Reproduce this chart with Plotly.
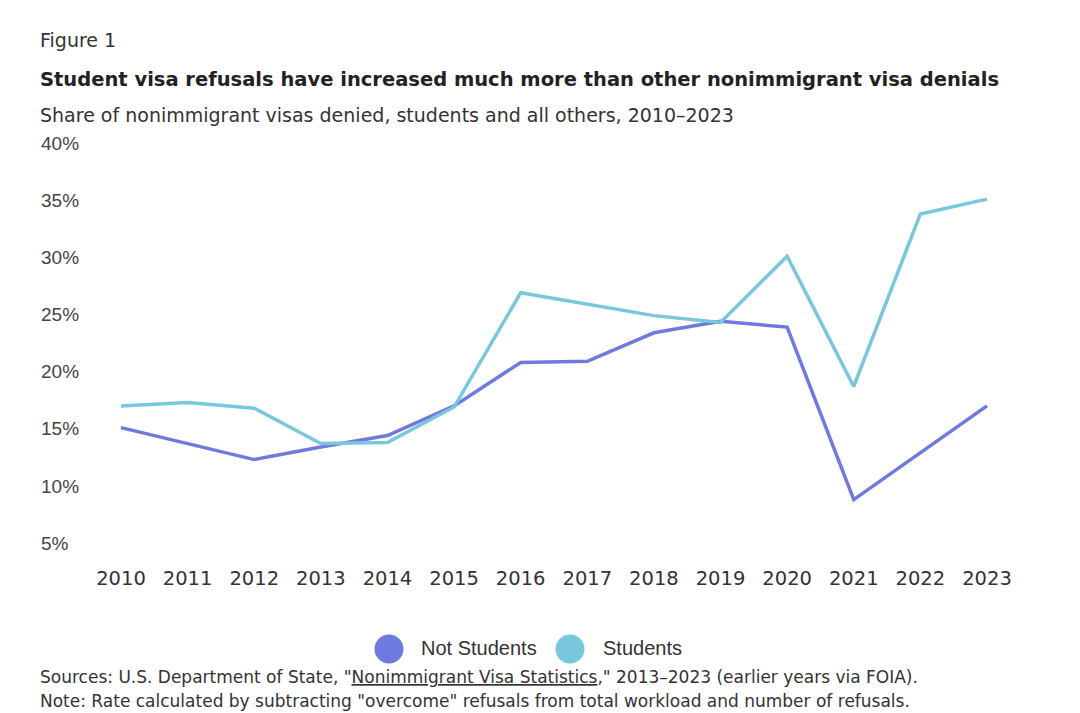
import plotly.graph_objects as go

# Données (part des visas refusés, en %)
annees = [2010, 2011, 2012, 2013, 2014, 2015, 2016, 2017, 2018, 2019, 2020, 2021, 2022, 2023]
not_students = [15.1, 13.7, 12.3, 13.4, 14.4, 17.0, 20.8, 20.9, 23.4, 24.4, 23.9, 8.8, 12.9, 17.0]
students = [17.0, 17.3, 16.8, 13.7, 13.8, 16.9, 26.9, 25.9, 24.9, 24.3, 30.1, 18.7, 33.8, 35.1]
y_ticks = [5, 10, 15, 20, 25, 30, 35, 40]
y_labels = [f"{v}%" for v in y_ticks]

couleur_not = "#6f7ade"
couleur_stu = "#79c7dc"
texte = "#333333"
police = "Liberation Sans, Arial, sans-serif"
police_large = "DejaVu Sans, Verdana, sans-serif"

# la page ajoute une marge de 8px autour de la figure
OFF = 8
W, H = 1080 - OFF, 713 - OFF
m_l, m_r, m_t, m_b = 38 - OFF, 40, 126 - OFF, 149
plot_h = H - m_t - m_b


def py(pix):
    # pixel vertical (écran) -> coordonnée paper
    return (H - m_b - (pix - OFF)) / plot_h


def px_(pix):
    return (pix - OFF - m_l) / (W - m_l - m_r)


fig = go.Figure()
fig.add_trace(go.Scatter(x=annees, y=not_students, mode="lines", name="Not Students",
                         line=dict(color=couleur_not, width=3.5), showlegend=False))
fig.add_trace(go.Scatter(x=annees, y=students, mode="lines", name="Students",
                         line=dict(color=couleur_stu, width=3.5), showlegend=False))

fig.update_layout(
    width=W, height=H,
    margin=dict(l=m_l, r=m_r, t=m_t, b=m_b),
    paper_bgcolor="white", plot_bgcolor="white",
    font=dict(family=police, color=texte, size=19),
    xaxis=dict(range=[2008.754, 2023.796], tickvals=annees, showgrid=False, zeroline=False,
               showline=False, ticks="", tickfont=dict(family=police_large, size=19.5),
               fixedrange=True),
    yaxis=dict(range=[3.16, 41.5], tickvals=y_ticks, ticktext=y_labels, showgrid=False,
               zeroline=False, showline=False, ticks="", ticklabelposition="inside",
               tickfont=dict(size=19), fixedrange=True),
)

# Titres et notes
annotations = [
    dict(text="Figure 1", x=px_(38), y=py(40), font=dict(family=police_large, size=19, color=texte)),
    dict(text="<b>Student visa refusals have increased much more than other nonimmigrant visa denials</b>",
         x=px_(38), y=py(80), font=dict(family=police_large, size=19.5, color="#222222")),
    dict(text="Share of nonimmigrant visas denied, students and all others, 2010–2023",
         x=px_(38), y=py(115), font=dict(family=police_large, size=19, color=texte)),
    dict(text='Sources: U.S. Department of State, "<u>Nonimmigrant Visa Statistics</u>," 2013–2023 (earlier years via FOIA).',
         x=px_(38), y=py(677), font=dict(family=police_large, size=17, color=texte)),
    dict(text='Note: Rate calculated by subtracting "overcome" refusals from total workload and number of refusals.',
         x=px_(38), y=py(701), font=dict(family=police_large, size=17, color=texte)),
    dict(text="Not Students", x=px_(419), y=py(648), font=dict(size=20, color=texte)),
    dict(text="Students", x=px_(601), y=py(648), font=dict(size=20, color=texte)),
]
for a in annotations:
    fig.add_annotation(xref="paper", yref="paper", xanchor="left", yanchor="middle",
                       showarrow=False, **a)

# Légende manuelle (cercles)
for cx, c in [(389, couleur_not), (570, couleur_stu)]:
    fig.add_shape(type="circle", xref="paper", yref="paper", xsizemode="pixel", ysizemode="pixel",
                  xanchor=px_(cx), yanchor=py(649), x0=-14.5, x1=14.5, y0=-14.5, y1=14.5,
                  fillcolor=c, line=dict(width=0))

fig.write_html("out.html")
